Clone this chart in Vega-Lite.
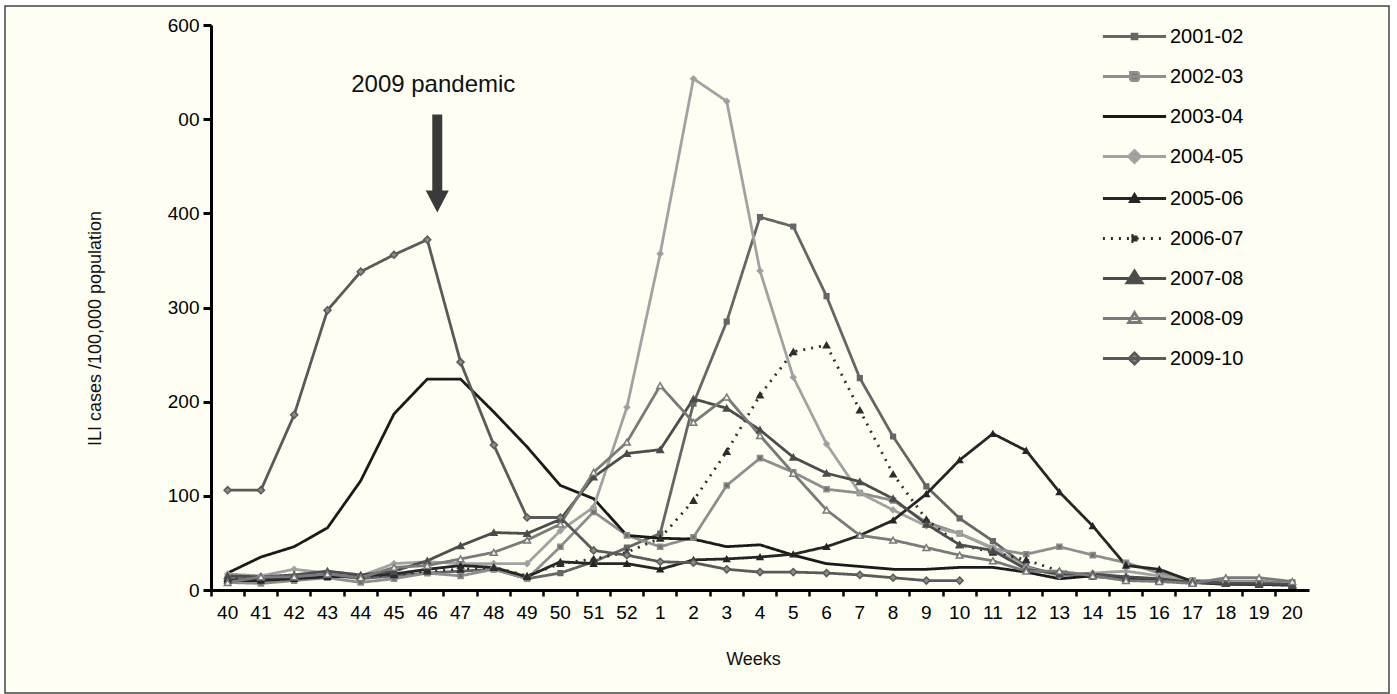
{
  "$schema": "https://vega.github.io/schema/vega-lite/v6.json",
  "width": 1384,
  "height": 687,
  "autosize": {"type": "none"},
  "padding": {"left": 5, "top": 6, "right": 8, "bottom": 1},
  "background": "white",
  "view": {"fill": "#fefef2", "stroke": "#444444", "strokeWidth": 1.5},
  "config": {"font": "Liberation Sans"},
  "datasets": {
    "note": [{"week": "46", "value": 536, "label": "2009 pandemic"}],
    "arrow": [{"week": "46", "value": 453}],
    "ili": [
      {"week":"40","season":"2001-02","value":12},{"week":"41","season":"2001-02","value":12},{"week":"42","season":"2001-02","value":14},{"week":"43","season":"2001-02","value":16},{"week":"44","season":"2001-02","value":12},{"week":"45","season":"2001-02","value":15},{"week":"46","season":"2001-02","value":18},{"week":"47","season":"2001-02","value":20},{"week":"48","season":"2001-02","value":22},{"week":"49","season":"2001-02","value":12},{"week":"50","season":"2001-02","value":18},{"week":"51","season":"2001-02","value":30},{"week":"52","season":"2001-02","value":45},{"week":"1","season":"2001-02","value":60},{"week":"2","season":"2001-02","value":198},{"week":"3","season":"2001-02","value":285},{"week":"4","season":"2001-02","value":396},{"week":"5","season":"2001-02","value":386},{"week":"6","season":"2001-02","value":312},{"week":"7","season":"2001-02","value":225},{"week":"8","season":"2001-02","value":163},{"week":"9","season":"2001-02","value":110},{"week":"10","season":"2001-02","value":76},{"week":"11","season":"2001-02","value":52},{"week":"12","season":"2001-02","value":25},{"week":"13","season":"2001-02","value":16},{"week":"14","season":"2001-02","value":14},{"week":"15","season":"2001-02","value":13},{"week":"16","season":"2001-02","value":12},{"week":"17","season":"2001-02","value":10},{"week":"18","season":"2001-02","value":9},{"week":"19","season":"2001-02","value":9},{"week":"20","season":"2001-02","value":8},
      {"week":"40","season":"2002-03","value":8},{"week":"41","season":"2002-03","value":7},{"week":"42","season":"2002-03","value":10},{"week":"43","season":"2002-03","value":13},{"week":"44","season":"2002-03","value":8},{"week":"45","season":"2002-03","value":12},{"week":"46","season":"2002-03","value":18},{"week":"47","season":"2002-03","value":15},{"week":"48","season":"2002-03","value":22},{"week":"49","season":"2002-03","value":12},{"week":"50","season":"2002-03","value":46},{"week":"51","season":"2002-03","value":83},{"week":"52","season":"2002-03","value":58},{"week":"1","season":"2002-03","value":46},{"week":"2","season":"2002-03","value":56},{"week":"3","season":"2002-03","value":111},{"week":"4","season":"2002-03","value":140},{"week":"5","season":"2002-03","value":125},{"week":"6","season":"2002-03","value":107},{"week":"7","season":"2002-03","value":103},{"week":"8","season":"2002-03","value":95},{"week":"9","season":"2002-03","value":72},{"week":"10","season":"2002-03","value":60},{"week":"11","season":"2002-03","value":44},{"week":"12","season":"2002-03","value":38},{"week":"13","season":"2002-03","value":46},{"week":"14","season":"2002-03","value":37},{"week":"15","season":"2002-03","value":29},{"week":"16","season":"2002-03","value":18},{"week":"17","season":"2002-03","value":10},{"week":"18","season":"2002-03","value":8},{"week":"19","season":"2002-03","value":7},{"week":"20","season":"2002-03","value":6},
      {"week":"40","season":"2003-04","value":18},{"week":"41","season":"2003-04","value":35},{"week":"42","season":"2003-04","value":46},{"week":"43","season":"2003-04","value":66},{"week":"44","season":"2003-04","value":116},{"week":"45","season":"2003-04","value":187},{"week":"46","season":"2003-04","value":224},{"week":"47","season":"2003-04","value":224},{"week":"48","season":"2003-04","value":189},{"week":"49","season":"2003-04","value":152},{"week":"50","season":"2003-04","value":111},{"week":"51","season":"2003-04","value":97},{"week":"52","season":"2003-04","value":58},{"week":"1","season":"2003-04","value":55},{"week":"2","season":"2003-04","value":54},{"week":"3","season":"2003-04","value":46},{"week":"4","season":"2003-04","value":48},{"week":"5","season":"2003-04","value":37},{"week":"6","season":"2003-04","value":28},{"week":"7","season":"2003-04","value":25},{"week":"8","season":"2003-04","value":22},{"week":"9","season":"2003-04","value":22},{"week":"10","season":"2003-04","value":24},{"week":"11","season":"2003-04","value":24},{"week":"12","season":"2003-04","value":19},{"week":"13","season":"2003-04","value":12},{"week":"14","season":"2003-04","value":15},{"week":"15","season":"2003-04","value":12},{"week":"16","season":"2003-04","value":10},{"week":"17","season":"2003-04","value":8},{"week":"18","season":"2003-04","value":6},{"week":"19","season":"2003-04","value":6},{"week":"20","season":"2003-04","value":6},
      {"week":"40","season":"2004-05","value":17},{"week":"41","season":"2004-05","value":15},{"week":"42","season":"2004-05","value":22},{"week":"43","season":"2004-05","value":18},{"week":"44","season":"2004-05","value":15},{"week":"45","season":"2004-05","value":28},{"week":"46","season":"2004-05","value":30},{"week":"47","season":"2004-05","value":28},{"week":"48","season":"2004-05","value":28},{"week":"49","season":"2004-05","value":28},{"week":"50","season":"2004-05","value":63},{"week":"51","season":"2004-05","value":88},{"week":"52","season":"2004-05","value":194},{"week":"1","season":"2004-05","value":357},{"week":"2","season":"2004-05","value":543},{"week":"3","season":"2004-05","value":519},{"week":"4","season":"2004-05","value":339},{"week":"5","season":"2004-05","value":226},{"week":"6","season":"2004-05","value":155},{"week":"7","season":"2004-05","value":103},{"week":"8","season":"2004-05","value":85},{"week":"9","season":"2004-05","value":68},{"week":"10","season":"2004-05","value":60},{"week":"11","season":"2004-05","value":45},{"week":"12","season":"2004-05","value":24},{"week":"13","season":"2004-05","value":15},{"week":"14","season":"2004-05","value":18},{"week":"15","season":"2004-05","value":20},{"week":"16","season":"2004-05","value":15},{"week":"17","season":"2004-05","value":10},{"week":"18","season":"2004-05","value":8},{"week":"19","season":"2004-05","value":8},{"week":"20","season":"2004-05","value":7},
      {"week":"40","season":"2005-06","value":10},{"week":"41","season":"2005-06","value":10},{"week":"42","season":"2005-06","value":12},{"week":"43","season":"2005-06","value":14},{"week":"44","season":"2005-06","value":15},{"week":"45","season":"2005-06","value":17},{"week":"46","season":"2005-06","value":22},{"week":"47","season":"2005-06","value":26},{"week":"48","season":"2005-06","value":24},{"week":"49","season":"2005-06","value":14},{"week":"50","season":"2005-06","value":30},{"week":"51","season":"2005-06","value":28},{"week":"52","season":"2005-06","value":28},{"week":"1","season":"2005-06","value":22},{"week":"2","season":"2005-06","value":32},{"week":"3","season":"2005-06","value":33},{"week":"4","season":"2005-06","value":35},{"week":"5","season":"2005-06","value":38},{"week":"6","season":"2005-06","value":46},{"week":"7","season":"2005-06","value":58},{"week":"8","season":"2005-06","value":74},{"week":"9","season":"2005-06","value":102},{"week":"10","season":"2005-06","value":138},{"week":"11","season":"2005-06","value":166},{"week":"12","season":"2005-06","value":148},{"week":"13","season":"2005-06","value":104},{"week":"14","season":"2005-06","value":68},{"week":"15","season":"2005-06","value":26},{"week":"16","season":"2005-06","value":22},{"week":"17","season":"2005-06","value":9},{"week":"18","season":"2005-06","value":7},{"week":"19","season":"2005-06","value":6},{"week":"20","season":"2005-06","value":5},
      {"week":"40","season":"2006-07","value":12},{"week":"41","season":"2006-07","value":12},{"week":"42","season":"2006-07","value":14},{"week":"43","season":"2006-07","value":16},{"week":"44","season":"2006-07","value":14},{"week":"45","season":"2006-07","value":16},{"week":"46","season":"2006-07","value":20},{"week":"47","season":"2006-07","value":22},{"week":"48","season":"2006-07","value":24},{"week":"49","season":"2006-07","value":15},{"week":"50","season":"2006-07","value":28},{"week":"51","season":"2006-07","value":33},{"week":"52","season":"2006-07","value":40},{"week":"1","season":"2006-07","value":55},{"week":"2","season":"2006-07","value":95},{"week":"3","season":"2006-07","value":147},{"week":"4","season":"2006-07","value":207},{"week":"5","season":"2006-07","value":253},{"week":"6","season":"2006-07","value":260},{"week":"7","season":"2006-07","value":191},{"week":"8","season":"2006-07","value":123},{"week":"9","season":"2006-07","value":75},{"week":"10","season":"2006-07","value":48},{"week":"11","season":"2006-07","value":40},{"week":"12","season":"2006-07","value":32},{"week":"13","season":"2006-07","value":20},{"week":"14","season":"2006-07","value":15},{"week":"15","season":"2006-07","value":12},{"week":"16","season":"2006-07","value":10},{"week":"17","season":"2006-07","value":8},{"week":"18","season":"2006-07","value":7},{"week":"19","season":"2006-07","value":6},{"week":"20","season":"2006-07","value":5},
      {"week":"40","season":"2007-08","value":15},{"week":"41","season":"2007-08","value":14},{"week":"42","season":"2007-08","value":16},{"week":"43","season":"2007-08","value":20},{"week":"44","season":"2007-08","value":16},{"week":"45","season":"2007-08","value":20},{"week":"46","season":"2007-08","value":31},{"week":"47","season":"2007-08","value":47},{"week":"48","season":"2007-08","value":61},{"week":"49","season":"2007-08","value":60},{"week":"50","season":"2007-08","value":75},{"week":"51","season":"2007-08","value":120},{"week":"52","season":"2007-08","value":145},{"week":"1","season":"2007-08","value":149},{"week":"2","season":"2007-08","value":203},{"week":"3","season":"2007-08","value":193},{"week":"4","season":"2007-08","value":170},{"week":"5","season":"2007-08","value":141},{"week":"6","season":"2007-08","value":124},{"week":"7","season":"2007-08","value":115},{"week":"8","season":"2007-08","value":97},{"week":"9","season":"2007-08","value":70},{"week":"10","season":"2007-08","value":48},{"week":"11","season":"2007-08","value":42},{"week":"12","season":"2007-08","value":22},{"week":"13","season":"2007-08","value":17},{"week":"14","season":"2007-08","value":17},{"week":"15","season":"2007-08","value":14},{"week":"16","season":"2007-08","value":12},{"week":"17","season":"2007-08","value":8},{"week":"18","season":"2007-08","value":7},{"week":"19","season":"2007-08","value":7},{"week":"20","season":"2007-08","value":6},
      {"week":"40","season":"2008-09","value":8},{"week":"41","season":"2008-09","value":14},{"week":"42","season":"2008-09","value":14},{"week":"43","season":"2008-09","value":17},{"week":"44","season":"2008-09","value":13},{"week":"45","season":"2008-09","value":24},{"week":"46","season":"2008-09","value":26},{"week":"47","season":"2008-09","value":33},{"week":"48","season":"2008-09","value":40},{"week":"49","season":"2008-09","value":53},{"week":"50","season":"2008-09","value":70},{"week":"51","season":"2008-09","value":125},{"week":"52","season":"2008-09","value":157},{"week":"1","season":"2008-09","value":217},{"week":"2","season":"2008-09","value":178},{"week":"3","season":"2008-09","value":205},{"week":"4","season":"2008-09","value":164},{"week":"5","season":"2008-09","value":124},{"week":"6","season":"2008-09","value":85},{"week":"7","season":"2008-09","value":58},{"week":"8","season":"2008-09","value":53},{"week":"9","season":"2008-09","value":45},{"week":"10","season":"2008-09","value":37},{"week":"11","season":"2008-09","value":31},{"week":"12","season":"2008-09","value":20},{"week":"13","season":"2008-09","value":20},{"week":"14","season":"2008-09","value":15},{"week":"15","season":"2008-09","value":10},{"week":"16","season":"2008-09","value":9},{"week":"17","season":"2008-09","value":7},{"week":"18","season":"2008-09","value":13},{"week":"19","season":"2008-09","value":13},{"week":"20","season":"2008-09","value":9},
      {"week":"40","season":"2009-10","value":106},{"week":"41","season":"2009-10","value":106},{"week":"42","season":"2009-10","value":186},{"week":"43","season":"2009-10","value":297},{"week":"44","season":"2009-10","value":338},{"week":"45","season":"2009-10","value":356},{"week":"46","season":"2009-10","value":372},{"week":"47","season":"2009-10","value":242},{"week":"48","season":"2009-10","value":154},{"week":"49","season":"2009-10","value":77},{"week":"50","season":"2009-10","value":77},{"week":"51","season":"2009-10","value":42},{"week":"52","season":"2009-10","value":37},{"week":"1","season":"2009-10","value":30},{"week":"2","season":"2009-10","value":29},{"week":"3","season":"2009-10","value":22},{"week":"4","season":"2009-10","value":19},{"week":"5","season":"2009-10","value":19},{"week":"6","season":"2009-10","value":18},{"week":"7","season":"2009-10","value":16},{"week":"8","season":"2009-10","value":13},{"week":"9","season":"2009-10","value":10},{"week":"10","season":"2009-10","value":10}
    ]
  },
  "encoding": {
    "x": {
      "field": "week", "type": "ordinal", "bandPosition": 0.5,
      "scale": {"type": "band", "domain": ["40","41","42","43","44","45","46","47","48","49","50","51","52","1","2","3","4","5","6","7","8","9","10","11","12","13","14","15","16","17","18","19","20"], "range": [206, 1304], "paddingInner": 0, "paddingOuter": 0},
      "axis": {"title": "Weeks", "offset": -103, "bandPosition": 0, "labelAngle": 0, "labelOverlap": false, "domainColor": "#000000", "domainWidth": 3, "tickColor": "#000000", "tickWidth": 2.5, "tickSize": 6, "labelFontSize": 19, "labelColor": "#000000", "labelPadding": 7, "titleFontSize": 18, "titleFontWeight": "normal", "titleColor": "#111111", "titleX": 748, "titleY": 69, "titleBaseline": "middle", "titleAlign": "center", "grid": false}
    },
    "y": {
      "field": "value", "type": "quantitative",
      "scale": {"domain": [0, 600], "range": [584, 19], "nice": false},
      "axis": {"title": "ILI cases /100,000 population", "values": [0,100,200,300,400,500,600], "labelExpr": "datum.value == 500 ? '00' : datum.label", "offset": -206, "domainColor": "#000000", "domainWidth": 3, "tickColor": "#000000", "tickWidth": 3, "tickSize": 8, "labelFontSize": 19, "labelColor": "#000000", "labelPadding": 4, "grid": false, "titleFontSize": 18, "titleFontWeight": "normal", "titleColor": "#111111", "titleX": -116, "titleY": 322, "titleAngle": -90, "titleAlign": "center", "titleBaseline": "middle"}
    }
  },
  "layer": [
    {
      "data": {"name": "ili"},
      "mark": {"type": "line", "strokeJoin": "round"},
      "encoding": {
        "order": {"value": null},
        "stroke": {
          "field": "season", "type": "nominal",
          "scale": {"domain": ["2001-02","2002-03","2003-04","2004-05","2005-06","2006-07","2007-08","2008-09","2009-10"], "range": ["#666666","#8e8e8e","#1a1a1a","#a2a2a2","#262626","#2e2e2e","#4d4d4d","#7a7a7a","#5a5a5a"]},
          "legend": {
            "title": null, "orient": "none", "legendX": 1108, "legendY": 9, "direction": "vertical",
            "symbolSize": 1600, "symbolStrokeWidth": 2.5, "labelFontSize": 20, "labelColor": "#000000", "labelOffset": 14, "rowPadding": 8, "padding": 0,
            "encode": {"symbols": {"update": {
              "shape": {"signal": "['M-1.58,0H1.58M-0.12,-0.12H0.12V0.12H-0.12Z','M-1.58,0H1.58M-0.2,-0.2H0.2V0.2H-0.2Z','M-1.58,0H1.58','M-1.58,0H1.58M0,-0.3L0.3,0L0,0.3L-0.3,0Z','M-1.58,0H1.58M0,-0.2L0.2,0.15H-0.2Z','M-1.58,0H1.58M-0.15,-0.15H0.15V0.15H-0.15Z','M-1.58,0H1.58M0,-0.38L0.38,0.22H-0.38Z','M-1.58,0H1.58M0,-0.3L0.3,0.2H-0.3Z','M-1.58,0H1.58M0,-0.28L0.28,0L0,0.28L-0.28,0Z'][indexof(['2001-02','2002-03','2003-04','2004-05','2005-06','2006-07','2007-08','2008-09','2009-10'], datum.value)]"},
              "fill": {"signal": "['#666666','#707070','transparent','#9d9d9d','#222222','#2e2e2e','#4a4a4a','#f2f2f2','#8a8a8a'][indexof(['2001-02','2002-03','2003-04','2004-05','2005-06','2006-07','2007-08','2008-09','2009-10'], datum.value)]"},
              "strokeWidth": {"signal": "datum.value == '2009-10' ? 3.5 : 2.5"},
              "strokeDash": {"signal": "datum.value == '2006-07' ? [2,6] : [1,0]"},
              "opacity": {"value": 1}
            }}}
          }
        },
        "strokeWidth": {"field": "season", "type": "nominal", "scale": {"domain": ["2001-02","2002-03","2003-04","2004-05","2005-06","2006-07","2007-08","2008-09","2009-10"], "range": [2.8,2.8,2.6,2.8,2.6,2.2,2.8,2.8,5]}, "legend": null},
        "strokeDash": {"field": "season", "type": "nominal", "scale": {"domain": ["2001-02","2002-03","2003-04","2004-05","2005-06","2006-07","2007-08","2008-09","2009-10"], "range": [[1,0],[1,0],[1,0],[1,0],[1,0],[2,6],[1,0],[1,0],[1,0]]}, "legend": null}
      }
    },
    {
      "data": {"name": "ili"},
      "transform": [{"filter": "datum.season != '2003-04'"}],
      "mark": {"type": "point", "filled": true, "strokeWidth": 1.5, "opacity": 1},
      "encoding": {
        "stroke": {"field": "season", "type": "nominal"},
        "fill": {"field": "season", "type": "nominal", "scale": {"domain": ["2001-02","2002-03","2004-05","2005-06","2006-07","2007-08","2008-09","2009-10"], "range": ["#666666","#707070","#9d9d9d","#222222","#2e2e2e","#4a4a4a","#f2f2f2","#8a8a8a"]}, "legend": null},
        "shape": {"field": "season", "type": "nominal", "scale": {"domain": ["2001-02","2002-03","2004-05","2005-06","2006-07","2007-08","2008-09","2009-10"], "range": ["square","square","diamond","triangle-up","triangle-up","triangle-up","triangle-up","diamond"]}, "legend": null},
        "size": {"field": "season", "type": "nominal", "scale": {"domain": ["2001-02","2002-03","2004-05","2005-06","2006-07","2007-08","2008-09","2009-10"], "range": [22,50,130,32,32,170,130,110]}, "legend": null}
      }
    },
    {
      "data": {"name": "note"},
      "mark": {"type": "text", "fontSize": 24, "color": "#111111", "xOffset": 6, "baseline": "middle", "align": "center"},
      "encoding": {"text": {"field": "label"}}
    },
    {
      "data": {"name": "arrow"},
      "mark": {"type": "point", "shape": "M-0.102,-1L0.102,-1L0.102,0.551L0.235,0.551L0,1L-0.235,0.551L-0.102,0.551Z", "size": 9604, "filled": true, "fill": "#3a3a3a", "strokeWidth": 0, "opacity": 1, "xOffset": 10}
    }
  ]
}
